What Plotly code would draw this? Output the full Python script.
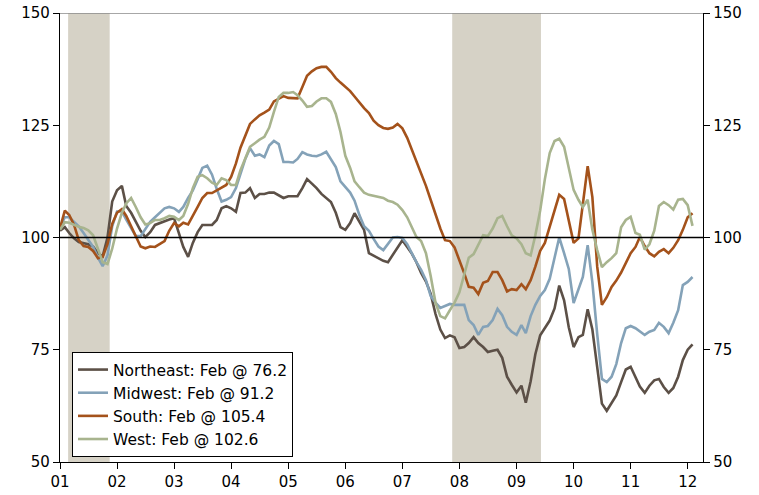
import pandas as pd
import plotly.graph_objects as go

dates = pd.date_range("2001-01-01", periods=134, freq="MS")

northeast = [101.5, 102.3, 101.0, 99.8, 99.0, 98.8, 98.5, 98.0, 96.5, 95.8,
             100.0, 108.0, 110.5, 111.5, 107.0, 105.5, 103.5, 101.5, 100.1, 101.2,
             102.8, 103.2, 103.7, 104.0, 104.3, 101.0, 97.9, 95.7, 98.8, 101.2,
             102.8, 102.8, 102.8, 103.9, 106.5, 107.0, 106.5, 105.7, 109.9, 110.0,
             111.0, 108.8, 109.7, 109.7, 110.0, 110.0, 109.3, 108.8, 109.2, 109.2,
             109.2, 111.0, 113.0, 112.0, 111.0, 109.7, 108.7, 107.9, 105.5, 102.3,
             101.7, 103.2, 105.4, 103.5, 101.7, 96.5, 95.9, 95.4, 94.8, 94.5,
             96.2, 97.8, 99.4, 97.9, 96.5, 94.5, 92.1, 90.2, 87.5, 83.0,
             79.5, 77.6, 78.2, 77.8, 75.4, 75.6, 76.5, 77.8, 76.5, 75.6,
             74.5, 74.8, 75.0, 73.2, 69.0, 67.2, 65.5, 67.0, 63.2, 68.0,
             74.0, 78.2, 79.8, 81.5, 84.2, 89.3, 86.0, 80.0, 75.6, 77.8,
             78.3, 84.0, 79.5, 71.5, 63.0, 61.4, 63.0, 64.8, 67.8, 70.6,
             71.2, 69.0, 66.8, 65.4, 67.0, 68.2, 68.5, 66.7, 65.4, 66.5,
             69.0, 72.7, 75.0, 76.2]

midwest = [102.3, 104.5, 104.5, 103.5, 102.5, 101.0, 99.4, 97.9, 95.5, 93.6,
           96.0, 102.5, 105.8, 105.8, 104.0, 102.0, 100.3, 100.3, 101.8, 103.5,
           104.5, 105.5, 106.5, 106.8, 106.5, 105.7, 106.8, 108.8, 110.5, 113.0,
           115.5, 116.0, 114.0, 110.8, 108.0, 108.4, 109.0, 111.0, 114.0, 117.5,
           119.9, 118.2, 118.5, 117.9, 120.5, 121.5, 120.8, 116.8, 116.8, 116.7,
           117.5, 119.0, 118.5, 118.2, 118.1, 118.5, 119.1, 117.3, 115.7, 112.5,
           111.2, 110.0, 108.2, 105.0, 102.5, 101.5, 99.7, 98.0, 97.2, 98.5,
           100.0, 100.1, 99.9, 98.5, 96.5, 94.5, 92.8, 90.5, 87.0, 85.5,
           84.3, 84.8, 85.2, 85.0, 85.0, 85.0, 81.6, 80.5, 78.3, 80.1,
           80.3, 81.6, 84.1, 82.7, 80.1, 79.0, 78.3, 80.5, 78.7, 82.5,
           85.0, 87.0, 88.3, 90.8, 95.5, 100.0, 96.5, 93.0, 85.4, 88.3,
           91.2, 98.3, 90.0, 78.5, 68.5, 67.8, 69.0, 71.8, 76.5, 79.8,
           80.3, 79.8, 79.0, 78.3, 79.0, 79.4, 81.0, 80.1, 78.7, 81.0,
           83.8, 89.4, 90.1, 91.2]

south = [102.1, 106.0, 105.0, 102.8, 99.4, 98.1, 97.9, 97.0, 95.4, 95.7,
         98.5, 103.0, 105.5, 106.3, 104.8, 102.4, 100.0, 98.0, 97.6, 98.0,
         97.9, 98.5, 99.2, 101.5, 103.2, 102.5, 103.3, 102.9, 105.0, 106.8,
         108.8, 109.9, 109.9, 110.5, 111.2, 111.7, 113.5, 116.5, 120.0, 122.6,
         125.3, 126.3, 127.2, 127.8, 128.5, 130.3, 131.0, 131.5, 131.1, 131.0,
         131.0, 133.5, 136.0, 137.0, 137.7, 138.0, 138.0, 136.9, 135.5, 134.5,
         133.5, 132.6, 131.4, 130.0, 128.8, 127.7, 126.0, 125.0, 124.4, 124.2,
         124.5, 125.3, 124.3, 122.2, 119.7, 117.0, 114.0, 111.5, 108.4, 105.0,
         102.0, 99.4, 99.2, 97.8, 95.0, 92.0, 89.0, 88.8, 87.4, 89.9,
         90.3, 92.3, 92.3, 90.5, 88.0, 88.5, 88.3, 89.6, 88.5, 90.5,
         93.5, 97.0, 98.8, 102.5, 106.0, 109.5, 108.6, 103.5, 98.8, 99.8,
         107.5, 115.9, 109.0, 93.5, 85.0, 86.7, 89.0, 90.4, 92.2, 94.5,
         96.5, 97.9, 100.1, 98.1, 96.5, 95.8, 96.8, 97.4, 96.5, 97.7,
         99.4, 101.7, 104.5, 105.4]

west = [101.7, 103.4, 103.3, 102.8, 102.4, 102.1, 101.6, 100.5, 97.5, 94.5,
        94.1, 97.5, 102.0, 105.5, 107.6, 108.8, 106.8, 104.5, 102.9, 103.2,
        103.9, 103.9, 104.3, 104.8, 104.6, 103.9, 104.8, 107.5, 111.0, 113.5,
        113.9, 113.2, 112.2, 111.7, 113.2, 112.8, 111.7, 111.7, 115.0, 117.7,
        120.2, 121.0, 121.8, 122.4, 124.5, 128.0, 131.3, 132.2, 132.2, 132.4,
        131.7, 130.5, 129.1, 129.3, 130.3, 131.0, 131.0, 130.2, 127.5, 123.5,
        118.2, 115.5, 112.5, 111.2, 110.0, 109.5, 109.3, 109.0, 108.8, 108.2,
        107.9, 107.3, 106.1, 104.5, 102.5, 100.1, 99.2, 96.5, 91.5, 85.5,
        82.5, 82.0, 83.8, 85.5, 87.8, 92.0, 95.5, 96.3, 98.5, 100.5,
        100.3, 102.0, 104.3, 104.8, 102.5, 100.5, 99.8, 98.5, 96.5, 96.0,
        100.5, 106.0, 113.0, 118.8, 121.5, 122.0, 120.2, 115.7, 110.6, 108.4,
        106.8, 108.4, 101.7, 97.2, 93.4, 94.5, 95.4, 96.5, 102.3, 103.9,
        104.6, 101.0, 100.6, 97.3, 98.5, 101.5, 107.0, 107.9, 107.2, 106.2,
        108.4, 108.6, 107.2, 102.6]

series_names = ["Northeast: Feb @ 76.2", "Midwest: Feb @ 91.2",
                "South: Feb @ 105.4", "West: Feb @ 102.6"]
series_values = [northeast, midwest, south, west]
series_colors = ["#5C5047", "#84A2B8", "#A4521B", "#A8B48E"]

recessions = [("2001-02-22", "2001-11-15"), ("2007-11-16", "2009-06-06")]

year_ticks = [f"{y}-01-01" for y in range(2001, 2013)]
year_labels = [f"{y % 100:02d}" for y in range(2001, 2013)]
y_ticks = [50, 75, 100, 125, 150]

fig = go.Figure()

for name, vals, col in zip(series_names, series_values, series_colors):
    fig.add_trace(go.Scatter(x=dates, y=vals, mode="lines", name=name,
                             line=dict(color=col, width=2.6)))

# invisible trace for the right axis
fig.add_trace(go.Scatter(x=[dates[0]], y=[100], yaxis="y2", mode="lines",
                         showlegend=False, hoverinfo="skip",
                         line=dict(color="rgba(0,0,0,0)")))

shapes = []
for x0, x1 in recessions:
    shapes.append(dict(type="rect", xref="x", yref="y", x0=x0, x1=x1,
                       y0=50, y1=150, fillcolor="#D6D2C6", line=dict(width=0),
                       layer="below"))
shapes.append(dict(type="line", xref="paper", yref="y", x0=0, x1=1, y0=100, y1=100,
                   line=dict(color="black", width=1.3)))
shapes.append(dict(type="line", xref="paper", yref="y", x0=0, x1=1, y0=150, y1=150,
                   line=dict(color="#8A8A8A", width=1.3)))

font_family = "DejaVu Sans, Verdana, sans-serif"

fig.update_layout(
    width=759, height=495,
    margin=dict(l=60, r=56, t=13, b=33),
    paper_bgcolor="white", plot_bgcolor="white",
    font=dict(family=font_family, size=15, color="black"),
    shapes=shapes,
    showlegend=True,
    legend=dict(x=0.0187, y=0.245, xanchor="left", yanchor="top",
                bgcolor="white", bordercolor="black", borderwidth=1,
                font=dict(family=font_family, size=15.5, color="black"),
                tracegroupgap=0, itemwidth=30),
    xaxis=dict(type="date", range=["2001-01-01", "2012-04-08"],
               tickmode="array", tickvals=year_ticks, ticktext=year_labels,
               ticks="outside", ticklen=6, tickcolor="black",
               showline=True, linecolor="black", linewidth=1.3,
               showgrid=False, zeroline=False, automargin=False,
               ticklabeloverflow="allow", tickfont=dict(size=15)),
    yaxis=dict(range=[50, 150], tickmode="array", tickvals=y_ticks,
               ticks="outside", ticklen=6, tickcolor="black",
               showline=True, linecolor="black", linewidth=1.3,
               showgrid=False, zeroline=False, automargin=False,
               ticklabeloverflow="allow", tickfont=dict(size=15)),
    yaxis2=dict(range=[50, 150], tickmode="array", tickvals=y_ticks,
                overlaying="y", side="right",
                ticks="outside", ticklen=6, tickcolor="black",
                showline=True, linecolor="black", linewidth=1.3,
                showgrid=False, zeroline=False, automargin=False,
                ticklabeloverflow="allow", tickfont=dict(size=15)),
)

# remove the browser's default 8px page margin so the figure fills the window
fig.write_html("out.html",
               config=dict(displayModeBar=False),
               post_script="document.body.style.margin='0';document.body.style.overflow='hidden';")
